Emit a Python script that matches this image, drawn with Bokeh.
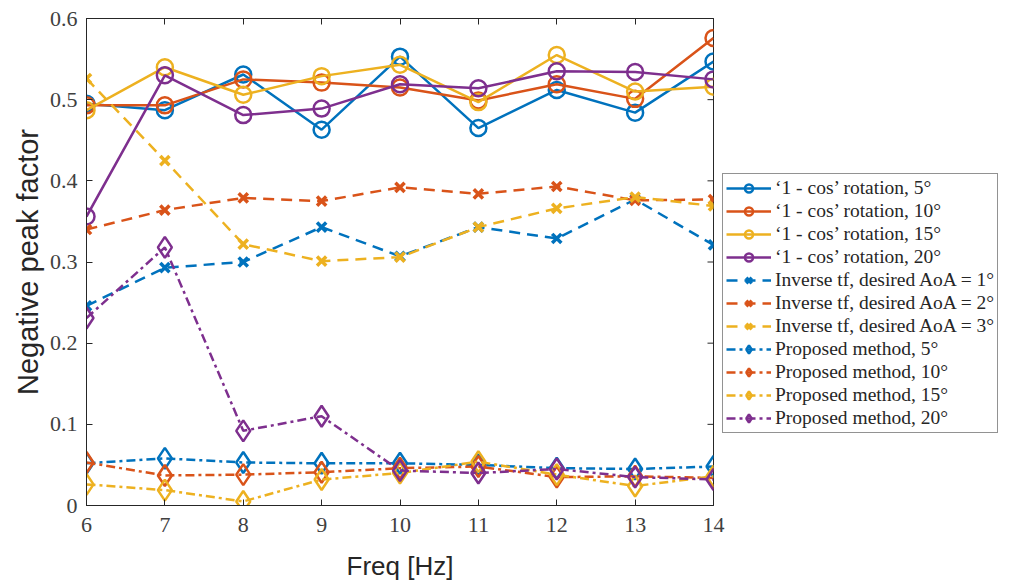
import math
from bokeh.plotting import figure
from bokeh.models import Legend, LinearAxis, FixedTicker, Range1d
from bokeh.embed import file_html
from bokeh.resources import INLINE

freq = [6, 7, 8, 9, 10, 11, 12, 13, 14]

cos_5 = [0.495, 0.487, 0.531, 0.463, 0.553, 0.465, 0.512, 0.484, 0.547]
cos_10 = [0.493, 0.493, 0.525, 0.521, 0.515, 0.499, 0.519, 0.501, 0.576]
cos_15 = [0.487, 0.540, 0.506, 0.529, 0.543, 0.497, 0.555, 0.510, 0.516]
cos_20 = [0.356, 0.530, 0.481, 0.489, 0.519, 0.514, 0.535, 0.534, 0.525]

inv_1 = [0.246, 0.293, 0.300, 0.343, 0.307, 0.343, 0.329, 0.377, 0.321]
inv_2 = [0.340, 0.364, 0.379, 0.375, 0.392, 0.384, 0.393, 0.376, 0.377]
inv_3 = [0.526, 0.425, 0.322, 0.301, 0.306, 0.343, 0.366, 0.380, 0.369]

prop_5 = [0.052, 0.058, 0.053, 0.052, 0.052, 0.050, 0.046, 0.045, 0.048]
prop_10 = [0.053, 0.037, 0.038, 0.041, 0.046, 0.048, 0.035, 0.036, 0.034]
prop_15 = [0.026, 0.019, 0.005, 0.032, 0.040, 0.054, 0.038, 0.024, 0.036]
prop_20 = [0.231, 0.318, 0.092, 0.110, 0.043, 0.040, 0.045, 0.035, 0.032]

x_ticks = [6, 7, 8, 9, 10, 11, 12, 13, 14]
y_ticks = [0, 0.1, 0.2, 0.3, 0.4, 0.5, 0.6]
y_tick_labels = ["0", "0.1", "0.2", "0.3", "0.4", "0.5", "0.6"]

labels_cos = ["\u20181 - cos\u2019 rotation, 5\u00b0", "\u20181 - cos\u2019 rotation, 10\u00b0",
              "\u20181 - cos\u2019 rotation, 15\u00b0", "\u20181 - cos\u2019 rotation, 20\u00b0"]
labels_inv = ["Inverse tf, desired AoA = 1\u00b0", "Inverse tf, desired AoA = 2\u00b0",
              "Inverse tf, desired AoA = 3\u00b0"]
labels_prop = ["Proposed method, 5\u00b0", "Proposed method, 10\u00b0",
               "Proposed method, 15\u00b0", "Proposed method, 20\u00b0"]

colors = ["#0072BD", "#D95319", "#EDB120", "#7E2F8E"]
AX = "#262626"

p = figure(frame_width=627, frame_height=487, output_backend="svg", toolbar_location=None,
           x_range=Range1d(6, 14), y_range=Range1d(0, 0.6),
           min_border_left=86, min_border_top=18, min_border_bottom=74, min_border_right=0)
p.xgrid.visible = False
p.ygrid.visible = False
p.outline_line_color = AX
p.outline_line_width = 1

items = []
for ys, c, lab in zip([cos_5, cos_10, cos_15, cos_20], colors, labels_cos):
    r1 = p.line(freq, ys, line_color=c, line_width=2.5)
    r2 = p.scatter(freq, ys, marker="circle", size=16, fill_color=None, line_color=c, line_width=2.5)
    items.append((lab, [r1, r2]))
for ys, c, lab in zip([inv_1, inv_2, inv_3], colors, labels_inv):
    r1 = p.line(freq, ys, line_color=c, line_width=2.5, line_dash="11 7")
    r2 = p.scatter(freq, ys, marker="x", size=13, line_color=c, line_width=3.5)
    items.append((lab, [r1, r2]))
for ys, c, lab in zip([prop_5, prop_10, prop_15, prop_20], colors, labels_prop):
    r1 = p.line(freq, ys, line_color=c, line_width=2.5, line_dash="9 4 3 4")
    r2 = p.scatter(freq, ys, marker="diamond", size=21, fill_color=None, line_color=c, line_width=2.5)
    items.append((lab, [r1, r2]))

# inward ticks on the right edge of the box
p.ray(x=[x_ticks[-1]] * len(y_ticks), y=y_ticks, length=6, length_units="screen",
      angle=math.pi, line_color=AX, line_width=1)

xax = p.below[0]
yax = p.left[0]

top_ax = LinearAxis(ticker=FixedTicker(ticks=x_ticks), major_label_overrides={t: "" for t in x_ticks})
top_ax.major_label_text_font_size = "1px"
top_ax.major_label_standoff = 0
p.add_layout(top_ax, "above")

for ax in [xax, yax, top_ax]:
    ax.major_tick_in = 6
    ax.major_tick_out = 0
    ax.minor_tick_in = 0
    ax.minor_tick_out = 0
    ax.axis_line_color = AX
    ax.major_tick_line_color = AX

for ax in [xax, yax]:
    ax.major_label_text_font = "Liberation Serif"
    ax.major_label_text_font_size = "22px"
    ax.major_label_text_color = "#404040"
    ax.axis_label_text_font = "Liberation Sans"
    ax.axis_label_text_font_size = "26px"
    ax.axis_label_text_font_style = "normal"
    ax.axis_label_text_color = AX
yax.axis_label_text_font_size = "29px"

xax.ticker = FixedTicker(ticks=x_ticks)
yax.ticker = FixedTicker(ticks=y_ticks)
yax.major_label_overrides = {t: l for t, l in zip(y_ticks, y_tick_labels)}
xax.axis_label = "Freq [Hz]"
yax.axis_label = "Negative peak factor"
xax.major_label_standoff = 12
yax.major_label_standoff = 9
xax.axis_label_standoff = 16
yax.axis_label_standoff = 3

legend = Legend(items=items, location=(9, 72))
legend.label_text_font = "Liberation Serif"
legend.label_text_font_size = "19.5px"
legend.label_text_color = AX
legend.glyph_width = 45
legend.glyph_height = 20
legend.label_height = 20
legend.spacing = 1
legend.padding = 3
legend.margin = 0
legend.label_standoff = 4
legend.border_line_color = AX
legend.border_line_width = 1
legend.background_fill_color = "white"
p.add_layout(legend, "right")

open("out.html", "w").write(file_html(p, INLINE))
